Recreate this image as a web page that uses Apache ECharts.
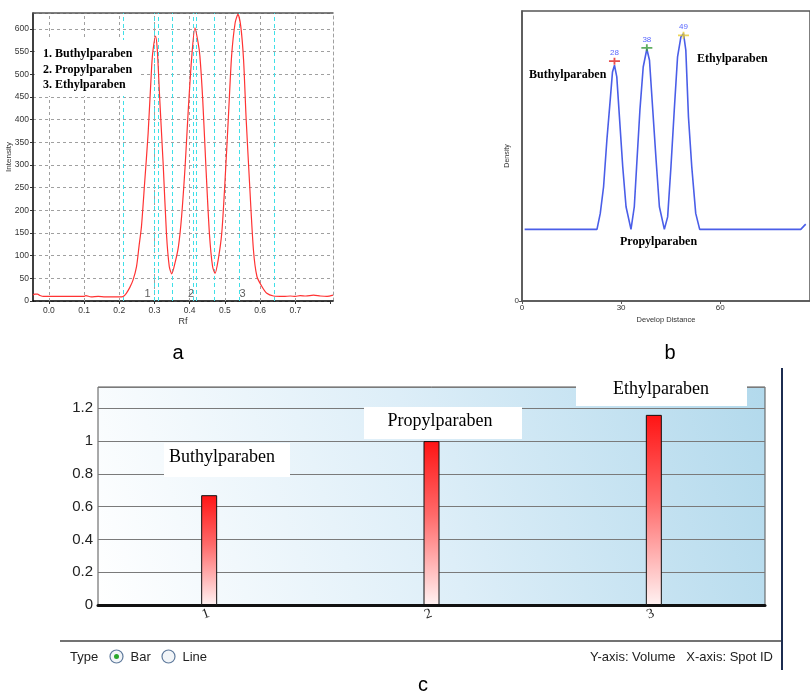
<!DOCTYPE html>
<html><head><meta charset="utf-8">
<script src="https://cdn.jsdelivr.net/npm/echarts@6/dist/echarts.min.js"></script>
<style>html,body{margin:0;padding:0;background:#fff}#c{width:810px;height:694px}</style>
</head><body><div id="c"></div>
<script>
// ---------- Panel a: Intensity vs Rf ----------
const rfA = [-0.045,-0.04,-0.032,-0.025,-0.015,0.0,0.02,0.04,0.06,0.08,0.1,0.105,0.12,0.14,0.16,0.18,0.2,0.211,0.22,0.23,0.239,0.249,0.256,0.263,0.272,0.282,0.292,0.296,0.303,0.308,0.315,0.325,0.334,0.342,0.349,0.358,0.368,0.377,0.387,0.396,0.406,0.415,0.424,0.429,0.437,0.446,0.456,0.465,0.472,0.481,0.491,0.5,0.51,0.519,0.529,0.537,0.545,0.553,0.56,0.57,0.581,0.591,0.605,0.619,0.638,0.667,0.686,0.7,0.714,0.73,0.752,0.771,0.79,0.807];
const intensityA = [13,15,15,12,10,10,10,10,10,10,10,12,9,10,9,9,9,10,17,30,46,76,120,164,260,370,517,554,584,554,444,297,149,76,60,83,120,186,297,422,540,602,569,540,444,297,149,76,61,91,149,260,407,540,613,632,606,532,407,260,113,54,32,17,11,10,11,10,12,11,13,11,10,13];
const tickRfA = [0,0.1,0.2,0.3,0.4,0.5,0.6,0.7,0.8];
const gridRfA = [0,0.1,0.2,0.3,0.4,0.5,0.6,0.7];
const xLabelsA = [0,0.1,0.2,0.3,0.4,0.5,0.6,0.7];
const cyanRfA = [0.213,0.301,0.306,0.349,0.413,0.418,0.472,0.537,0.541,0.638];
const peakIdA = ['1','2','3'];
const peakIdRfA = [0.28,0.404,0.55];
const peakIdYA = [15,15,15];
const legendA = ['1. Buthylparaben','2. Propylparaben','3. Ethylparaben'];

// ---------- Panel b: Density vs Develop Distance ----------
const distB = [0.8,22.7,23.7,24.7,25.7,26.7,27.4,28.0,28.7,29.5,30.5,31.5,33.0,34.0,34.7,35.7,36.7,37.8,38.6,39.6,40.6,41.6,43.1,44.1,45.1,46.1,47.1,48.1,48.9,49.6,50.4,51.4,52.6,53.8,84.4,85.9];
const densityB = [24.7,24.7,30.2,39.4,55.5,69.2,79,81.3,77.3,63.5,46.3,32.5,24.7,32.5,46.3,65.8,80.7,86.9,83,65.8,48.6,32.5,24.7,29,46.3,65.8,84.2,91,92.2,86.5,63.5,46.3,30.2,24.7,24.7,26.5];
const peakDistB = [28.0,37.8,48.9];
const peakMarkB = [82.7,87.3,91.6];
const peakTextB = ['28','38','49'];
const namesB = ['Buthylparaben','Ethylparaben','Propylparaben'];

// ---------- Panel c: Volume vs Spot ID ----------
const spotC = ['1','2','3'];
const volumeC = [0.67,1.0,1.16];
const namesC = ['Buthylparaben','Propylparaben','Ethylparaben'];

// ---------- styles ----------
const markerColors = ['#e02020','#3a9a3a','#e8cc30'];
const SERIF = '"Liberation Serif", "Times New Roman", serif';
const SANS = '"Liberation Sans", Arial, sans-serif';
const NARROW = '"Liberation Sans Narrow", "Liberation Sans", Arial, sans-serif';

function txt(text, x, y, font, align, vAlign, fill, extra) {
  return Object.assign({
    type: 'text', z: 110,
    style: { text: text, x: x, y: y, font: font, fill: fill || '#000',
      align: align, textAlign: align, verticalAlign: vAlign, textVerticalAlign: vAlign }
  }, extra || {});
}
function box(x, y, w, h) {
  return { type: 'rect', z: 100, shape: { x: x, y: y, width: w, height: h }, style: { fill: '#fff' } };
}

const chart = echarts.init(document.getElementById('c'), null, { renderer: 'canvas' });

const graphic = [
  // panel a legend box
  box(35, 40, 105, 56),
  txt(legendA[0], 43, 54, 'bold 12px ' + SERIF, 'left', 'middle'),
  txt(legendA[1], 43, 70, 'bold 12px ' + SERIF, 'left', 'middle'),
  txt(legendA[2], 43, 85, 'bold 12px ' + SERIF, 'left', 'middle'),
  // panel b labels
  box(526, 66, 84, 25),
  txt(namesB[0], 529, 75, 'bold 12px ' + SERIF, 'left', 'middle'),
  box(695, 49, 77, 23),
  txt(namesB[1], 697, 58.5, 'bold 12px ' + SERIF, 'left', 'middle'),
  box(618, 234, 82, 21),
  txt(namesB[2], 620, 242, 'bold 12px ' + SERIF, 'left', 'middle'),
  // panel c labels
  box(164, 443, 126, 34),
  txt(namesC[0], 222, 457, '18px ' + SERIF, 'center', 'middle'),
  box(364, 407, 158, 32),
  txt(namesC[1], 440, 421, '18px ' + SERIF, 'center', 'middle'),
  box(576, 375, 171, 31),
  txt(namesC[2], 661, 389, '18px ' + SERIF, 'center', 'middle'),
  // panel c footer
  { type: 'line', z: 100, shape: { x1: 60, y1: 641, x2: 781, y2: 641 }, style: { stroke: '#444', lineWidth: 1.5 } },
  { type: 'line', z: 100, shape: { x1: 782, y1: 368, x2: 782, y2: 670 }, style: { stroke: '#1c2c50', lineWidth: 2 } },
  txt('Type', 70, 657, '13px ' + NARROW, 'left', 'middle', '#222'),
  { type: 'circle', z: 100, shape: { cx: 116.5, cy: 656.5, r: 6.5 }, style: { fill: '#f2f5f8', stroke: '#5f7a9c', lineWidth: 1.2 } },
  { type: 'circle', z: 101, shape: { cx: 116.5, cy: 656.5, r: 2.5 }, style: { fill: '#2aa82a' } },
  txt('Bar', 130.5, 657, '13px ' + NARROW, 'left', 'middle', '#222'),
  { type: 'circle', z: 100, shape: { cx: 168.5, cy: 656.5, r: 6.5 }, style: { fill: '#f2f5f8', stroke: '#5f7a9c', lineWidth: 1.2 } },
  txt('Line', 182.5, 657, '13px ' + NARROW, 'left', 'middle', '#222'),
  txt('Y-axis: Volume   X-axis: Spot ID', 773, 657, '13px ' + NARROW, 'right', 'middle', '#222'),
  // captions
  txt('a', 178, 353, '20px ' + SANS, 'center', 'middle', '#000'),
  txt('b', 670, 353, '20px ' + SANS, 'center', 'middle', '#000'),
  txt('c', 423, 685, '20px ' + SANS, 'center', 'middle', '#000')
];

const option = {
  animation: false,
  backgroundColor: '#fff',
  textStyle: { fontFamily: SANS },
  graphic: graphic,
  grid: [
    { left: 33, top: 13, width: 300, height: 288 },
    { left: 522, top: 11, width: 292, height: 290, show: true, borderColor: '#555', borderWidth: 1.5, backgroundColor: '#fff' },
    { left: 98, top: 387, width: 667, height: 218, show: true, borderColor: '#555', borderWidth: 1,
      backgroundColor: { type: 'linear', x: 0, y: 1, x2: 1, y2: 0,
        colorStops: [{ offset: 0, color: '#ffffff' }, { offset: 0.5, color: '#ddeef8' }, { offset: 1, color: '#b2d9ec' }] } }
  ],
  xAxis: [
    { gridIndex: 0, type: 'value', min: -0.045, max: 0.807,
      axisLine: { onZero: false, lineStyle: { color: '#000', width: 1.5 } },
      axisTick: { show: true, customValues: tickRfA, length: 3, lineStyle: { color: '#333' } },
      axisLabel: { customValues: xLabelsA, formatter: v => Number(v).toFixed(1), fontSize: 8.5, color: '#333', margin: 5 },
      splitLine: { show: false },
      name: 'Rf', nameLocation: 'middle', nameGap: 16, nameTextStyle: { fontSize: 9, color: '#333' } },
    { gridIndex: 0, type: 'value', position: 'top', min: -0.045, max: 0.807,
      axisLine: { onZero: false, lineStyle: { color: '#555', width: 1.5 } },
      axisTick: { show: false }, axisLabel: { show: false }, splitLine: { show: false } },
    { gridIndex: 1, type: 'value', min: 0, max: 87.2, interval: 30,
      axisLine: { onZero: false, lineStyle: { color: '#555', width: 1.5 } },
      axisTick: { show: true, length: 3, lineStyle: { color: '#555' } },
      axisLabel: { fontSize: 8, color: '#333', showMaxLabel: false, margin: 3 },
      splitLine: { show: false },
      name: 'Develop Distance', nameLocation: 'middle', nameGap: 15, nameTextStyle: { fontSize: 7.5, color: '#333' } },
    { gridIndex: 2, type: 'category', data: spotC,
      axisLine: { onZero: false, lineStyle: { color: '#111', width: 3 } },
      axisTick: { show: false },
      axisLabel: { fontSize: 14, color: '#222', rotate: 20, margin: 8, fontFamily: SERIF },
      splitLine: { show: false } }
  ],
  yAxis: [
    { gridIndex: 0, type: 'value', min: 0, max: 635, interval: 50,
      axisLine: { show: true, onZero: false, lineStyle: { color: '#000', width: 1.5 } },
      axisTick: { show: true, length: 3, lineStyle: { color: '#333' } },
      axisLabel: { fontSize: 8.5, color: '#333', showMaxLabel: false, margin: 4 },
      splitLine: { show: true, lineStyle: { color: '#a0a0a0', type: [3, 3], width: 1 } },
      name: 'Intensity', nameLocation: 'middle', nameGap: 20, nameMoveOverlap: false,
      nameTextStyle: { fontSize: 8, color: '#333' } },
    { gridIndex: 0, type: 'value', position: 'right', min: 0, max: 635,
      axisLine: { show: true, onZero: false, lineStyle: { color: '#a0a0a0', type: [3, 3], width: 1 } },
      axisTick: { show: false }, axisLabel: { show: false }, splitLine: { show: false } },
    { gridIndex: 1, type: 'value', min: 0, max: 100,
      axisLine: { show: true, onZero: false, lineStyle: { color: '#555', width: 1.5 } },
      axisTick: { show: true, length: 3, customValues: [0] },
      axisLabel: { customValues: [0], fontSize: 8, color: '#333', margin: 3 },
      splitLine: { show: false },
      name: 'Density', nameLocation: 'middle', nameGap: 9, nameTextStyle: { fontSize: 7, color: '#333' } },
    { gridIndex: 2, type: 'value', min: 0, max: 1.33, interval: 0.2,
      axisLine: { show: false, onZero: false }, axisTick: { show: false },
      axisLabel: { fontSize: 15, color: '#222', showMaxLabel: false, margin: 5, fontFamily: NARROW },
      splitLine: { show: true, lineStyle: { color: '#7a7a7a', width: 1 } } }
  ],
  series: [
    { // grid + cyan reference lines and peak numbers (panel a)
      type: 'scatter', xAxisIndex: 0, yAxisIndex: 0, z: 1,
      symbolSize: 1, itemStyle: { color: 'rgba(0,0,0,0)' },
      data: peakIdRfA.map((x, i) => ({ value: [x, peakIdYA[i]], name: peakIdA[i] })),
      label: { show: true, position: 'inside', formatter: p => p.name, fontSize: 11, color: '#333' },
      markLine: {
        silent: true, symbol: ['none', 'none'], label: { show: false }, animation: false,
        data: gridRfA.map(v => ({ xAxis: v, lineStyle: { color: '#a0a0a0', type: [3, 3], width: 1 } }))
          .concat(cyanRfA.map(v => ({ xAxis: v, lineStyle: { color: '#3fe0e8', type: [4, 3], width: 1 } })))
      }
    },
    { // panel a curve
      type: 'line', xAxisIndex: 0, yAxisIndex: 0, z: 5,
      data: rfA.map((x, i) => [x, intensityA[i]]),
      showSymbol: false, smooth: 0.25,
      lineStyle: { color: '#ff3333', width: 1.2 }
    },
    { // panel b curve
      type: 'line', xAxisIndex: 2, yAxisIndex: 2, z: 5,
      data: distB.map((x, i) => [x, densityB[i]]),
      showSymbol: false, smooth: false,
      lineStyle: { color: '#4a5ee8', width: 1.6 }
    },
    { // panel b peak markers
      type: 'scatter', xAxisIndex: 2, yAxisIndex: 2, z: 6,
      symbol: 'path://M0,4h12v2h-12z M5,1h2v8h-2z', symbolSize: [11, 7],
      data: peakDistB.map((x, i) => ({ value: [x, peakMarkB[i]], name: peakTextB[i], itemStyle: { color: markerColors[i] } })),
      label: { show: true, position: 'top', distance: 1, formatter: p => p.name, fontSize: 8, color: '#2a3cff' }
    },
    { // panel c bars
      type: 'bar', xAxisIndex: 3, yAxisIndex: 3, z: 5,
      data: volumeC, barWidth: 16,
      itemStyle: {
        color: { type: 'linear', x: 0, y: 0, x2: 0, y2: 1,
          colorStops: [{ offset: 0, color: '#ff1414' }, { offset: 0.45, color: '#ff6a6a' }, { offset: 1, color: '#fff2f2' }] },
        borderColor: '#111', borderWidth: 1
      }
    }
  ]
};
chart.setOption(option);
</script>
</body></html>
